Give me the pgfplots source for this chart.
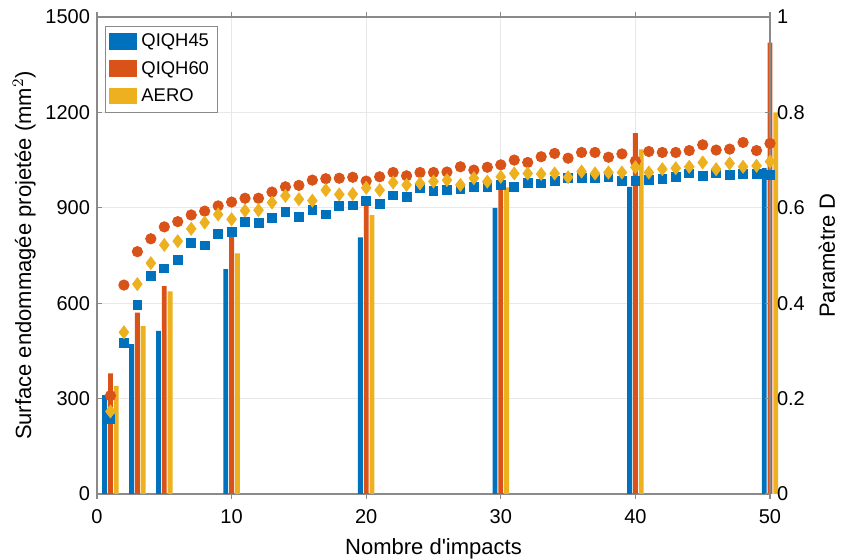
\documentclass[border=0pt]{standalone}
\usepackage{pgfplots}
\pgfplotsset{compat=1.18}
\usepackage{fontspec}
\setmainfont{Liberation Sans}
\definecolor{mblue}{HTML}{0072BD}
\definecolor{morange}{HTML}{D95319}
\definecolor{myellow}{HTML}{EDB120}
\definecolor{axgray}{HTML}{8A8A8A}
\begin{document}
\begin{tikzpicture}
\begin{axis}[
  name=ax,
  scale only axis, width=336.5pt, height=238.5pt,
  xmin=0, xmax=50, ymin=0, ymax=1500,
  xtick={0,10,20,30,40,50}, ytick={0,300,600,900,1200,1500},
  axis y line*=left,
  axis x line*=box,
  clip=false,
  tick align=inside, major tick length=2.5pt,
  xtick pos=both, ytick pos=left,
  grid=major, major grid style={gray!18, line width=0.5pt},
  axis line style={axgray, line width=0.6pt},
  every tick/.style={axgray, line width=0.6pt},
  tick label style={font=\fontsize{10}{12}\selectfont, black},
  xticklabel style={yshift=-1.5pt},
  /pgf/number format/assume math mode=true,
  /pgf/number format/1000 sep={},
  xlabel={Nombre d\textquotesingle impacts},
  ylabel={Surface endommagée projetée (mm$^2$)},
  label style={font=\fontsize{11}{13}\selectfont},
  xlabel style={yshift=-1pt},
  ylabel style={yshift=-2pt},
  ybar, bar width=0.36,
  legend style={at={(rel axis cs:0.012,0.982)}, anchor=north west, draw=axgray, font=\fontsize{9.2}{10}\selectfont, inner sep=2pt, row sep=1.8pt, cells={anchor=west}},
  legend image code/.code={\fill[#1] (0pt,-3.8pt) rectangle (14pt,4.6pt);},
]
\addplot[fill=mblue, draw=none, bar shift=-0.43] coordinates {(1,311) (3,471) (5,513) (10,707) (20,807) (30,900) (40,966) (50,1025)};
\addplot[fill=morange, draw=none, bar shift=0] coordinates {(1,379) (3,570) (5,654) (10,810) (20,930) (30,985) (40,1135) (50,1419)};
\addplot[fill=myellow, draw=none, bar shift=0.43] coordinates {(1,340) (3,528) (5,637) (10,757) (20,877) (30,964) (40,1084) (50,1200)};
\legend{QIQH45,QIQH60,AERO}
\end{axis}
\begin{axis}[
  scale only axis, width=336.5pt, height=238.5pt,
  xmin=0, xmax=50, ymin=0, ymax=1,
  axis y line*=right, axis x line=none,
  ytick={0,0.2,0.4,0.6,0.8,1},
  tick align=inside, major tick length=2.5pt,
  axis line style={axgray, line width=0.6pt},
  every tick/.style={axgray, line width=0.6pt},
  tick label style={font=\fontsize{10}{12}\selectfont, black},
  /pgf/number format/assume math mode=true,
  ylabel={Paramètre D},
  label style={font=\fontsize{11}{13}\selectfont},
  only marks,
]
\addplot[mark=square*, mark size=2.2pt, color=mblue] coordinates {
(1,0.157) (2,0.317) (3,0.396) (4,0.458) (5,0.473) (6,0.491) (7,0.526) (8,0.521) (9,0.546) (10,0.549)
(11,0.570) (12,0.569) (13,0.578) (14,0.592) (15,0.581) (16,0.595) (17,0.586) (18,0.604) (19,0.605) (20,0.614)
(21,0.608) (22,0.626) (23,0.623) (24,0.641) (25,0.636) (26,0.638) (27,0.639) (28,0.643) (29,0.644) (30,0.648)
(31,0.644) (32,0.653) (33,0.651) (34,0.657) (35,0.662) (36,0.662) (37,0.662) (38,0.665) (39,0.656) (40,0.657)
(41,0.658) (42,0.660) (43,0.664) (44,0.672) (45,0.667) (46,0.672) (47,0.669) (48,0.671) (49,0.671) (50,0.669)};
\addplot[mark=*, mark size=2.6pt, color=morange] coordinates {
(1,0.206) (2,0.438) (3,0.508) (4,0.535) (5,0.560) (6,0.571) (7,0.585) (8,0.593) (9,0.604) (10,0.612)
(11,0.620) (12,0.620) (13,0.633) (14,0.644) (15,0.647) (16,0.658) (17,0.661) (18,0.662) (19,0.664) (20,0.656)
(21,0.665) (22,0.674) (23,0.667) (24,0.674) (25,0.674) (26,0.675) (27,0.686) (28,0.679) (29,0.685) (30,0.690)
(31,0.700) (32,0.695) (33,0.707) (34,0.714) (35,0.704) (36,0.716) (37,0.716) (38,0.706) (39,0.713) (40,0.698)
(41,0.718) (42,0.716) (43,0.716) (44,0.720) (45,0.732) (46,0.721) (47,0.723) (48,0.737) (49,0.720) (50,0.735)};
\addplot[mark=diamond*, mark size=3.2pt, color=myellow] coordinates {
(1,0.173) (2,0.339) (3,0.440) (4,0.484) (5,0.522) (6,0.530) (7,0.556) (8,0.569) (9,0.586) (10,0.576)
(11,0.594) (12,0.595) (13,0.611) (14,0.625) (15,0.618) (16,0.615) (17,0.637) (18,0.628) (19,0.629) (20,0.642)
(21,0.637) (22,0.653) (23,0.648) (24,0.651) (25,0.655) (26,0.658) (27,0.648) (28,0.662) (29,0.655) (30,0.665)
(31,0.672) (32,0.672) (33,0.671) (34,0.672) (35,0.664) (36,0.676) (37,0.672) (38,0.674) (39,0.674) (40,0.685)
(41,0.674) (42,0.681) (43,0.683) (44,0.686) (45,0.695) (46,0.681) (47,0.693) (48,0.686) (49,0.688) (50,0.697)};
\end{axis}
\pgfresetboundingbox
\path[use as bounding box] ([shift={(-48.5pt,-33pt)}]ax.south west) rectangle ([shift={(37.5pt,8.5pt)}]ax.north east);
\end{tikzpicture}
\end{document}
